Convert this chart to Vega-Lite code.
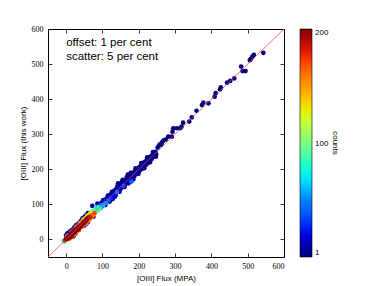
{
  "$schema": "https://vega.github.io/schema/vega-lite/v6.json",
  "autosize": "none",
  "width": 236,
  "height": 228,
  "padding": {"left": 48, "top": 29, "right": 98, "bottom": 29},
  "background": "white",
  "config": {
    "view": {"stroke": "#000000", "strokeWidth": 1},
    "axis": {
      "grid": false, "domain": false, "tickColor": "#000", "tickSize": -4, "tickWidth": 0.8,
      "labelFont": "Liberation Serif", "labelFontSize": 8, "labelColor": "#000", "labelPadding": 9,
      "titleFont": "Liberation Sans", "titleFontSize": 8, "titleFontWeight": "normal", "titleColor": "#000"
    },
    "legend": {
      "labelFont": "Liberation Sans", "labelFontSize": 8, "labelColor": "#000",
      "titleFont": "Liberation Sans", "titleFontSize": 8, "titleFontWeight": "normal", "titleColor": "#000"
    }
  },
  "layer": [
    {
      "data": {"values": [
        {"x":543,"y":532,"c":1},{"x":517,"y":526,"c":1},{"x":513,"y":521,"c":2},{"x":509,"y":515,"c":1},{"x":506,"y":511,"c":1},
        {"x":482,"y":493,"c":1},{"x":486,"y":480,"c":1},{"x":494,"y":480,"c":1},{"x":463,"y":459,"c":1},{"x":452,"y":452,"c":1},
        {"x":443,"y":447,"c":1},{"x":426,"y":434,"c":1},{"x":424,"y":428,"c":1},{"x":412,"y":417,"c":1},{"x":409,"y":407,"c":1},
        {"x":392,"y":388,"c":1},{"x":378,"y":390,"c":1},{"x":374,"y":383,"c":1},{"x":359,"y":367,"c":1},{"x":346,"y":348,"c":1},
        {"x":339,"y":336,"c":1},{"x":322,"y":333,"c":1},{"x":318,"y":322,"c":1},{"x":314,"y":317,"c":1},{"x":305,"y":317,"c":1},
        {"x":295,"y":317,"c":1},{"x":293,"y":307,"c":1},{"x":291,"y":293,"c":1},{"x":281,"y":293,"c":1},{"x":274,"y":285,"c":1},
        {"x":268,"y":282,"c":2},{"x":264,"y":277,"c":1},{"x":259,"y":272,"c":2},{"x":256,"y":268,"c":1},{"x":262,"y":270,"c":1},{"x":252,"y":262,"c":2},
        {"x":86,"y":92,"c":60},{"x":88,"y":84,"c":70},{"x":90,"y":96,"c":30},{"x":92,"y":88,"c":90},{"x":94,"y":99,"c":10},{"x":95,"y":90,"c":50},
        {"x":97,"y":104,"c":5},{"x":99,"y":95,"c":40},{"x":100,"y":107,"c":8},{"x":102,"y":98,"c":60},{"x":104,"y":110,"c":3},{"x":105,"y":100,"c":30},
        {"x":107,"y":113,"c":6},{"x":109,"y":104,"c":50},{"x":111,"y":116,"c":4},{"x":112,"y":108,"c":20},{"x":114,"y":120,"c":2},{"x":116,"y":111,"c":40},
        {"x":118,"y":123,"c":5},{"x":119,"y":114,"c":15},{"x":121,"y":127,"c":3},{"x":123,"y":118,"c":30},{"x":125,"y":130,"c":6},{"x":127,"y":121,"c":10},
        {"x":129,"y":134,"c":2},{"x":130,"y":120,"c":5},{"x":132,"y":138,"c":4},{"x":133,"y":126,"c":25},{"x":135,"y":141,"c":3},{"x":137,"y":131,"c":8},
        {"x":139,"y":145,"c":2},{"x":140,"y":135,"c":45},{"x":142,"y":148,"c":5},{"x":144,"y":138,"c":10},{"x":146,"y":152,"c":3},{"x":148,"y":142,"c":6},
        {"x":150,"y":156,"c":2},{"x":151,"y":146,"c":20},{"x":153,"y":160,"c":4},{"x":155,"y":149,"c":8},{"x":157,"y":163,"c":2},{"x":158,"y":153,"c":35},
        {"x":160,"y":166,"c":5},{"x":162,"y":157,"c":4},{"x":164,"y":170,"c":3},{"x":166,"y":160,"c":10},{"x":168,"y":174,"c":2},{"x":169,"y":164,"c":6},
        {"x":171,"y":178,"c":3},{"x":173,"y":167,"c":4},{"x":175,"y":181,"c":2},{"x":177,"y":171,"c":15},{"x":179,"y":184,"c":3},{"x":180,"y":165,"c":40},
        {"x":182,"y":188,"c":2},{"x":184,"y":177,"c":5},{"x":186,"y":191,"c":3},{"x":188,"y":181,"c":4},{"x":190,"y":195,"c":2},{"x":192,"y":186,"c":8},
        {"x":194,"y":199,"c":3},{"x":196,"y":189,"c":2},{"x":198,"y":203,"c":5},{"x":200,"y":193,"c":3},{"x":202,"y":207,"c":2},{"x":204,"y":198,"c":4},
        {"x":206,"y":210,"c":3},{"x":208,"y":201,"c":2},{"x":210,"y":214,"c":4},{"x":212,"y":205,"c":3},{"x":214,"y":219,"c":2},{"x":216,"y":209,"c":5},
        {"x":218,"y":222,"c":3},{"x":220,"y":213,"c":2},{"x":222,"y":226,"c":4},{"x":224,"y":217,"c":3},{"x":226,"y":230,"c":2},{"x":228,"y":221,"c":3},
        {"x":230,"y":234,"c":2},{"x":232,"y":226,"c":4},{"x":234,"y":238,"c":3},{"x":236,"y":230,"c":2},{"x":238,"y":241,"c":3},{"x":240,"y":235,"c":2},
        {"x":242,"y":245,"c":3},{"x":244,"y":240,"c":2},{"x":246,"y":250,"c":3},{"x":248,"y":243,"c":2},
        {"x":91,"y":91,"c":80},{"x":96,"y":97,"c":45},{"x":103,"y":104,"c":20},{"x":110,"y":111,"c":12},{"x":117,"y":117,"c":8},{"x":124,"y":125,"c":6},
        {"x":131,"y":131,"c":5},{"x":138,"y":139,"c":4},{"x":145,"y":145,"c":3},{"x":152,"y":152,"c":3},{"x":159,"y":160,"c":2},{"x":166,"y":166,"c":2},
        {"x":173,"y":174,"c":2},{"x":181,"y":181,"c":2},{"x":189,"y":189,"c":2},{"x":197,"y":197,"c":2},{"x":205,"y":204,"c":2},{"x":213,"y":213,"c":2},
        {"x":221,"y":221,"c":2},{"x":229,"y":229,"c":2},{"x":237,"y":237,"c":2},{"x":245,"y":245,"c":2},
        {"x":102,"y":112,"c":5},{"x":108,"y":98,"c":10},{"x":115,"y":125,"c":3},{"x":120,"y":108,"c":6},{"x":126,"y":136,"c":2},{"x":134,"y":122,"c":4},
        {"x":141,"y":152,"c":2},{"x":147,"y":136,"c":5},{"x":154,"y":166,"c":3},{"x":161,"y":150,"c":4},{"x":167,"y":178,"c":2},{"x":172,"y":160,"c":3},
        {"x":178,"y":190,"c":2},{"x":185,"y":172,"c":3},{"x":191,"y":203,"c":2},{"x":199,"y":187,"c":3},{"x":207,"y":218,"c":2},{"x":215,"y":203,"c":3},
        {"x":223,"y":234,"c":2},{"x":231,"y":220,"c":3},{"x":239,"y":249,"c":2},{"x":247,"y":236,"c":2},{"x":143,"y":160,"c":3},{"x":156,"y":170,"c":2},
        {"x":170,"y":185,"c":2},{"x":128,"y":115,"c":8},{"x":136,"y":126,"c":6},
        {"x":0,"y":12,"c":5},{"x":3,"y":17,"c":3},{"x":6,"y":19,"c":2},{"x":9,"y":14,"c":10},{"x":11,"y":23,"c":3},{"x":13,"y":19,"c":15},
        {"x":16,"y":27,"c":2},{"x":19,"y":29,"c":8},{"x":22,"y":33,"c":5},{"x":25,"y":37,"c":3},{"x":28,"y":41,"c":2},{"x":31,"y":42,"c":10},
        {"x":35,"y":47,"c":4},{"x":40,"y":52,"c":3},{"x":44,"y":57,"c":5},{"x":46,"y":61,"c":3},{"x":52,"y":66,"c":8},{"x":56,"y":70,"c":2},
        {"x":60,"y":75,"c":4},{"x":20,"y":9,"c":20},{"x":26,"y":17,"c":25},{"x":33,"y":26,"c":30},{"x":50,"y":40,"c":15},{"x":60,"y":50,"c":20},{"x":56,"y":45,"c":30},
        {"x":72,"y":96,"c":3},{"x":86,"y":102,"c":4},{"x":75,"y":65,"c":10},
        {"x":-7,"y":-4,"c":90},{"x":-5,"y":-6,"c":80},{"x":3,"y":8,"c":120},{"x":6,"y":0,"c":110},{"x":12,"y":5,"c":140},{"x":15,"y":22,"c":60},
        {"x":18,"y":11,"c":130},{"x":24,"y":18,"c":150},{"x":21,"y":28,"c":40},{"x":27,"y":33,"c":100},{"x":30,"y":24,"c":140},{"x":33,"y":40,"c":50},
        {"x":36,"y":30,"c":150},{"x":39,"y":46,"c":90},{"x":42,"y":36,"c":130},{"x":45,"y":52,"c":110},{"x":47,"y":42,"c":140},{"x":49,"y":56,"c":130},
        {"x":51,"y":45,"c":150},{"x":53,"y":60,"c":120},{"x":55,"y":49,"c":140},{"x":57,"y":64,"c":100},{"x":59,"y":53,"c":130},{"x":61,"y":68,"c":120},
        {"x":63,"y":57,"c":150},{"x":65,"y":72,"c":110},{"x":67,"y":61,"c":135},{"x":69,"y":76,"c":100},{"x":71,"y":65,"c":160},{"x":73,"y":80,"c":90},
        {"x":74,"y":70,"c":150},{"x":76,"y":73,"c":120},{"x":77,"y":82,"c":80},{"x":78,"y":75,"c":170},{"x":80,"y":78,"c":100},{"x":82,"y":86,"c":70},{"x":84,"y":81,"c":90},
        {"x":5,"y":12,"c":170},{"x":10,"y":3,"c":160},{"x":15,"y":8,"c":190},{"x":18,"y":25,"c":180},{"x":25,"y":16,"c":170},{"x":28,"y":36,"c":160},
        {"x":35,"y":27,"c":180},{"x":38,"y":47,"c":150},{"x":45,"y":37,"c":170},{"x":48,"y":57,"c":140},{"x":55,"y":47,"c":160},{"x":58,"y":67,"c":130},
        {"x":65,"y":57,"c":150},{"x":68,"y":77,"c":110},
        {"x":-3,"y":-2,"c":180},{"x":0,"y":1,"c":200},{"x":2,"y":3,"c":200},{"x":4,"y":2,"c":200},{"x":5,"y":6,"c":200},{"x":7,"y":5,"c":200},
        {"x":8,"y":9,"c":200},{"x":10,"y":8,"c":200},{"x":11,"y":12,"c":200},{"x":13,"y":11,"c":200},{"x":14,"y":15,"c":200},{"x":16,"y":14,"c":200},
        {"x":17,"y":18,"c":200},{"x":19,"y":17,"c":200},{"x":20,"y":21,"c":200},{"x":22,"y":20,"c":200},{"x":23,"y":25,"c":200},{"x":25,"y":23,"c":200},
        {"x":26,"y":28,"c":200},{"x":28,"y":26,"c":200},{"x":29,"y":31,"c":195},{"x":31,"y":29,"c":200},{"x":32,"y":34,"c":190},{"x":34,"y":32,"c":200},
        {"x":35,"y":37,"c":185},{"x":37,"y":35,"c":200},{"x":38,"y":40,"c":180},{"x":40,"y":38,"c":200},{"x":41,"y":43,"c":170},{"x":43,"y":41,"c":195},
        {"x":44,"y":46,"c":160},{"x":46,"y":45,"c":200},{"x":48,"y":50,"c":190},{"x":50,"y":48,"c":200},{"x":52,"y":54,"c":170},{"x":54,"y":52,"c":190},
        {"x":56,"y":58,"c":200},{"x":58,"y":56,"c":180},{"x":60,"y":62,"c":190},{"x":62,"y":60,"c":170},{"x":64,"y":66,"c":160},{"x":66,"y":64,"c":185},
        {"x":68,"y":70,"c":150},{"x":70,"y":68,"c":140},{"x":72,"y":75,"c":130}
      ]},
      "mark": {"type": "circle", "size": 22, "opacity": 1},
      "encoding": {
        "x": {"field": "x", "type": "quantitative", "title": "[OIII] Flux (MPA)",
              "scale": {"domain": [-50, 600], "nice": false, "zero": false},
              "axis": {"values": [0, 100, 200, 300, 400, 500, 600], "titlePadding": 4}},
        "y": {"field": "y", "type": "quantitative", "title": "[OIII] Flux (this work)",
              "scale": {"domain": [-50, 600], "nice": false, "zero": false},
              "axis": {"values": [0, 100, 200, 300, 400, 500, 600], "titlePadding": 4}},
        "color": {"field": "c", "type": "quantitative", "title": "counts",
                  "scale": {"domain": [1, 25.875, 50.75, 75.625, 100.5, 125.375, 150.25, 175.125, 200],
                            "range": ["#000080", "#0000ff", "#0080ff", "#14ffe2", "#7cff7a", "#e2ff14", "#ff9700", "#ff2200", "#800000"]},
                  "legend": {"values": [1, 100, 200], "gradientLength": 228, "gradientThickness": 12,
                             "offset": 15, "padding": 0, "titleOrient": "right", "titlePadding": 3,
                             "gradientStrokeColor": "#000", "gradientStrokeWidth": 0.6, "labelOffset": 3,
                             "encode": {"title": {"update": {"angle": {"value": -90}}}}}},
        "order": {"field": "c", "type": "quantitative"}
      }
    },
    {
      "data": {"values": [{"line": "1:1"}]},
      "mark": {"type": "rule", "color": "#ff3333", "strokeWidth": 0.9, "opacity": 0.8},
      "encoding": {
        "x": {"datum": -50, "type": "quantitative", "axis": {"orient": "top", "labels": false, "title": null, "values": [0, 100, 200, 300, 400, 500, 600]}},
        "x2": {"datum": 600},
        "y": {"datum": -50, "type": "quantitative", "axis": {"orient": "right", "labels": false, "title": null, "values": [0, 100, 200, 300, 400, 500, 600]}},
        "y2": {"datum": 600}
      }
    },
    {
      "data": {"values": [{"label": "offset: 1 per cent", "pos": 560}, {"label": "scatter: 5 per cent", "pos": 520}]},
      "mark": {"type": "text", "align": "left", "baseline": "middle", "font": "Liberation Sans", "fontSize": 11.5, "color": "#000"},
      "encoding": {
        "x": {"datum": 0, "type": "quantitative", "axis": null},
        "y": {"field": "pos", "type": "quantitative", "axis": null},
        "text": {"field": "label"}
      }
    }
  ],
  "resolve": {"axis": {"x": "independent", "y": "independent"}}
}
